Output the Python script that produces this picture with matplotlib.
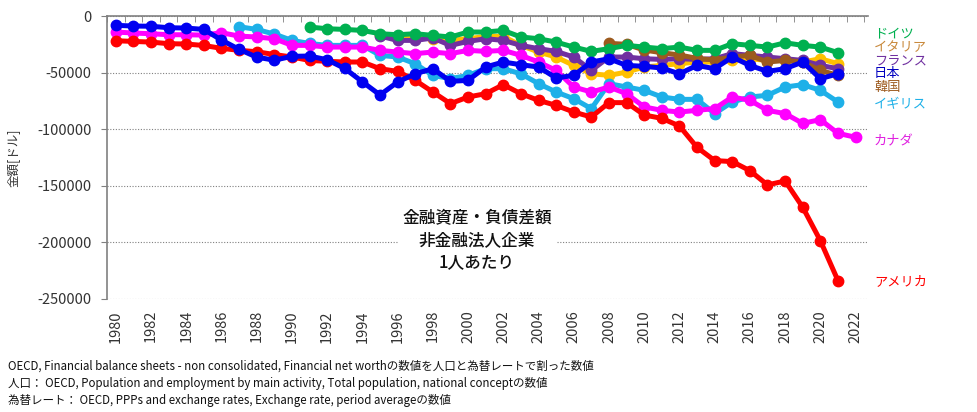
import matplotlib
matplotlib.use('Agg')
import matplotlib.pyplot as plt
from matplotlib.ticker import MultipleLocator, FuncFormatter

plt.rcParams['font.family'] = ['Noto Sans CJK JP', 'DejaVu Sans']

# years on a category axis
years = list(range(1980, 2023))

# values per person [USD] (None = no data)
japan = [-8200, -8800, -9000, -10300, -10600, -11800, -21200, -29400, -36300, -39000,
         -35600, -35300, -38600, -46300, -58100, -69700, -58300, -51000, -46500, -57700,
         -56800, -45000, -40600, -43000, -45000, -54700, -52400, -40600, -37700, -43600,
         -44400, -45900, -51000, -43600, -46500, -36200, -43600, -48900, -46500, -40600,
         -55300, -51000, None]
usa = [-21800, -22400, -23000, -24400, -24700, -26000, -28500, -30300, -31500, -34000,
       -36200, -39200, -40000, -40600, -40600, -46500, -48900, -56800, -67100, -77400,
       -71500, -68600, -60600, -68600, -74500, -78900, -84800, -89200, -76500, -76500,
       -87400, -90400, -97100, -116000, -127700, -128600, -136600, -149200, -145700, -168900,
       -198400, -233700, None]
canada = [-14100, -15000, -15600, -16500, -16500, -16800, -14700, -17700, -18500, -20000,
          -25900, -25900, -27400, -27400, -27400, -30300, -31800, -33200, -31800, -33200,
          -30300, -31200, -30300, -34700, -40600, -48000, -62700, -67100, -62700, -68600,
          -80300, -83300, -84800, -83300, -81800, -71500, -74500, -83300, -86200, -94800,
          -91500, -103600, -107100]
uk = [None] * 7 + [-9400, -11800, -15900,
      -21500, -24200, -25900, -25900, -25900, -34700, -36200, -42100, -52400, -55300,
      -52400, -46500, -46500, -51000, -59700, -67100, -73000, -81800, -59700, -62700,
      -65600, -71500, -73600, -73600, -86200, -75900, -71500, -70000, -62700, -60600,
      -65600, -75900, None]
germany = [None] * 11 + [-9700, -11200, -11800, -12700, -15600, -16500, -15600, -17100, -18500,
          -14100, -14100, -12700, -18500, -20000, -23000, -27400, -31200, -28800, -25900,
          -27400, -28800, -27400, -30300, -30300, -24400, -25900, -27400, -23600, -25900,
          -27400, -32300, None]
france = [None] * 15 + [-17700, -21500, -21500, -19400, -25900,
          -22400, -20000, -21500, -25900, -28800, -31200, -36200, -48000, -36200, -36200,
          -37700, -38300, -37700, -38300, -37700, -33200, -34700, -36200, -37700, -39200,
          -43600, -46500, None]
italy = [None] * 15 + [-17000, -19000, -19500, -20000, -21500,
         -20000, -18000, -18000, -25900, -31800, -36200, -43600, -51000, -52400, -49500,
         -45000, -43600, -42100, -40600, -40600, -39200, -37700, -39200, -39200, -40600,
         -37700, -42100, None]
korea = [None] * 28 + [-24100, -25000,
         -30000, -32400, -34400, -37400, -38800, -36200, -34700, -40600, -39200, -40600,
         -48000, -52400, None]

series = [
    (italy, '#FFC000'),
    (france, '#7030A0'),
    (korea, '#9C5A1E'),
    (germany, '#00B050'),
    (uk, '#1EB0E8'),
    (canada, '#FF00FF'),
    (usa, '#FF0000'),
    (japan, '#0000F0'),
]

labels = ['ドイツ', 'イタリア', 'フランス', '日本', '韓国', 'イギリス', 'カナダ', 'アメリカ']
label_y = [-16000, -27500, -39500, -51000, -63500, -78500, -111300, -234900]
label_colors = ['#00B050', '#C8883A', '#7030A0', '#0000C0', '#9C5A1E', '#1EB0E8', '#E020E0', '#FF0000']

fig = plt.figure(figsize=(9.78, 4.12), dpi=100)
ax = fig.add_axes([0.1094, 0.2743, 0.778, 0.6867])

x = list(range(len(years)))
for vals, col in series:
    xs = [i for i, v in zip(x, vals) if v is not None]
    ys = [v for v in vals if v is not None]
    ax.plot(xs, ys, color=col, linewidth=3.6, marker='o', markersize=7.5,
            solid_joinstyle='round', solid_capstyle='round')

ax.set_xlim(-0.5, 42.7)
ax.set_ylim(-250000, 0)

# y axis
ax.yaxis.set_major_locator(MultipleLocator(50000))
ax.yaxis.set_major_formatter(FuncFormatter(lambda v, p: '%d' % v))
ax.tick_params(axis='y', direction='out', length=4, color='#808080', pad=7,
               labelsize=10.5, labelcolor='#333333')
ax.yaxis.grid(True, linestyle=(0, (1, 1.5)), color='#808080', linewidth=0.8)
ax.set_ylabel('金額[ドル]', fontsize=9, color='#333333', labelpad=13)

# x axis: line at 0 (top), labels at bottom
ax.set_xticks(x[::2])
ax.set_xticklabels([str(y) for y in years[::2]])
ax.set_xticks([i - 0.5 for i in range(len(years) + 1)], minor=True)
ax.tick_params(axis='x', which='major', bottom=True, top=False, length=0,
               labelrotation=90, labelsize=10.5, labelcolor='#333333', pad=8)
ax.tick_params(axis='x', which='minor', bottom=False, top=True, direction='in',
               length=4, color='#808080')

for s in ['right', 'bottom']:
    ax.spines[s].set_visible(False)
for s in ['left', 'top']:
    ax.spines[s].set_color('#808080')
    ax.spines[s].set_linewidth(1.2)

# series names at right
for name, yy, col in zip(labels, label_y, label_colors):
    ax.text(1.008, yy, name, color=col, fontsize=9.5, va='center', ha='left',
            transform=ax.get_yaxis_transform())

# title box
ax.text(0.486, 0.208, '金融資産・負債差額\n非金融法人企業\n1人あたり', transform=ax.transAxes,
        ha='center', va='center', fontsize=12, linespacing=1.35, color='#111111',
        fontweight='medium', bbox=dict(facecolor='white', edgecolor='none', pad=3))

notes = [
    'OECD, Financial balance sheets - non consolidated, Financial net worthの数値を人口と為替レートで割った数値',
    '人口： OECD, Population and employment by main activity, Total population, national conceptの数値',
    '為替レート： OECD, PPPs and exchange rates, Exchange rate, period averageの数値',
]
for k, t in enumerate(notes):
    fig.text(0.008, 1 - (366 + 17 * k) / 412, t, fontsize=8.3, color='#111111',
             va='center', ha='left')

fig.savefig('out.png', dpi=100)
